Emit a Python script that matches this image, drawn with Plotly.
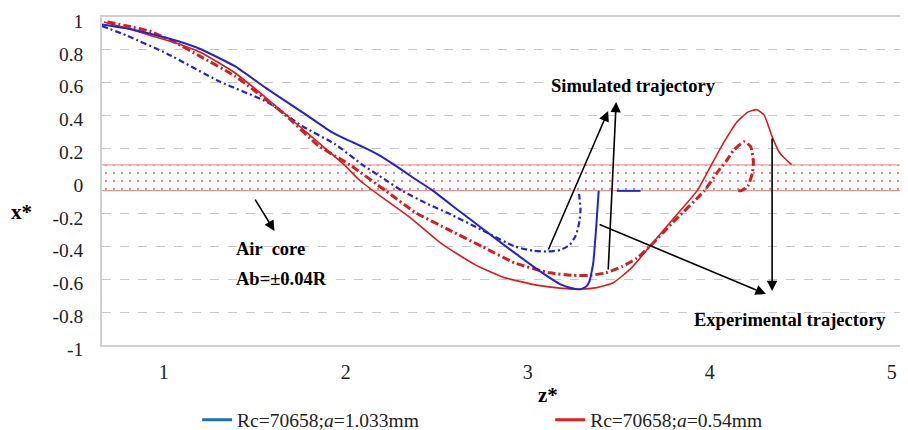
import plotly.graph_objects as go

# ---------------- data ----------------
# Experimental trajectory, a=1.033mm (blue solid)
blue_exp_x = [0.66, 0.80, 0.93, 1.07, 1.20, 1.39, 1.57, 1.76, 1.92, 2.00, 2.09, 2.18, 2.265, 2.37, 2.48,
              2.62, 2.75, 2.93, 3.08, 3.18, 3.25, 3.29, 3.32, 3.34, 3.36, 3.375, 3.39,
              None, 3.49, 3.62]
blue_exp_y = [0.955, 0.93, 0.896, 0.855, 0.805, 0.70, 0.56, 0.42, 0.30, 0.255, 0.21, 0.16, 0.10, 0.02, -0.06,
              -0.18, -0.29, -0.44, -0.56, -0.63, -0.655, -0.66, -0.645, -0.61, -0.50, -0.30, -0.06,
              None, -0.06, -0.06]

# Simulated trajectory, a=1.033mm (blue dash-dot)
blue_sim_x = [0.66, 0.80, 1.02, 1.30, 1.57, 1.76, 1.94, 2.09, 2.20, 2.31, 2.45, 2.57, 2.75, 2.93, 3.03, 3.11,
              3.18, 3.23, 3.265, 3.285, 3.29, 3.28]
blue_sim_y = [0.945, 0.885, 0.775, 0.61, 0.48, 0.335, 0.225, 0.10, 0.02, -0.06, -0.14, -0.20, -0.30, -0.40,
              -0.425, -0.43, -0.42, -0.39, -0.33, -0.24, -0.17, -0.06]

# Experimental trajectory, a=0.54mm (red solid)
red_exp_x = [0.67, 0.80, 0.93, 1.07, 1.20, 1.39, 1.57, 1.76, 1.99, 2.08, 2.20, 2.35, 2.53, 2.71, 2.86, 3.05,
             3.19, 3.29, 3.38, 3.47, 3.57, 3.67, 3.80, 3.93, 4.01, 4.08, 4.15, 4.21, 4.26, 4.30, 4.34, 4.38,
             4.41, 4.45]
red_exp_y = [0.97, 0.93, 0.886, 0.84, 0.785, 0.66, 0.50, 0.32, 0.10, 0.0, -0.10, -0.22, -0.385, -0.51,
             -0.585, -0.635, -0.655, -0.66, -0.65, -0.62, -0.53, -0.40, -0.23, -0.06, 0.10, 0.24, 0.36,
             0.42, 0.435, 0.40, 0.28, 0.18, 0.14, 0.10]

# Simulated trajectory, a=0.54mm (red dash-dot)
red_sim_x = [0.69, 0.80, 0.93, 1.07, 1.20, 1.39, 1.66, 1.85, 2.02, 2.22, 2.38, 2.57, 2.75, 2.93, 3.12, 3.25,
             3.34, 3.43, 3.52, 3.60, 3.67, 3.80, 3.97, 4.04, 4.09, 4.13, 4.19, 4.225, 4.24, 4.235, 4.21,
             4.17, 4.15]
red_sim_y = [0.97, 0.945, 0.91, 0.84, 0.76, 0.64, 0.41, 0.215, 0.10, -0.06, -0.19, -0.30, -0.40, -0.50,
             -0.56, -0.575, -0.575, -0.56, -0.52, -0.47, -0.40, -0.25, -0.06, 0.05, 0.12, 0.185, 0.24,
             0.21, 0.12, 0.05, -0.03, -0.06, -0.055]

# Air core band
band_x = [0.60, 5.20, 5.20, 0.60, 0.60]
band_y = [0.098, 0.098, -0.059, -0.059, 0.098]

legend_names = ["Rc=70658;<i>a</i>=1.033mm", "Rc=70658;<i>a</i>=0.54mm"]
x_ticks = [1, 2, 3, 4, 5]
y_ticks = [1, 0.8, 0.6, 0.4, 0.2, 0, -0.2, -0.4, -0.6, -0.8, -1]
y_tick_labels = ["1", "0.8", "0.6", "0.4", "0.2", "0", "-0.2", "-0.4", "-0.6", "-0.8", "-1"]

SERIF = "Liberation Serif"
BLUE = "#2323cf"
RED = "#d41f1f"

fig = go.Figure()

fig.add_trace(go.Scatter(
    x=band_x, y=band_y, mode="lines", fill="toself",
    line=dict(color="#e58080", width=1),
    fillcolor="rgba(255,255,255,0)",
    fillpattern=dict(shape=".", fgcolor="#c01010", bgcolor="white", size=8, solidity=0.065),
    showlegend=False, hoverinfo="skip"))

fig.add_trace(go.Scatter(x=blue_sim_x, y=blue_sim_y, mode="lines",
                         line=dict(color=BLUE, width=2.2, dash="6px,3px,2px,3px", shape="spline", smoothing=0.5),
                         showlegend=False))
fig.add_trace(go.Scatter(x=red_sim_x, y=red_sim_y, mode="lines",
                         line=dict(color=RED, width=3, dash="8px,3px,2px,3px", shape="spline", smoothing=0.5),
                         showlegend=False))
fig.add_trace(go.Scatter(x=red_exp_x, y=red_exp_y, mode="lines",
                         line=dict(color=RED, width=1.6, shape="spline", smoothing=0.5),
                         showlegend=False))
fig.add_trace(go.Scatter(x=blue_exp_x, y=blue_exp_y, mode="lines",
                         line=dict(color=BLUE, width=2, shape="spline", smoothing=0.4),
                         showlegend=False))

# legend-only entries
fig.add_trace(go.Scatter(x=[None], y=[None], mode="lines", name=legend_names[0],
                         line=dict(color="#1f6cb8", width=3), legend="legend"))
fig.add_trace(go.Scatter(x=[None], y=[None], mode="lines", name=legend_names[1],
                         line=dict(color="#e81c1c", width=3), legend="legend2"))

arrow_style = dict(xref="x", yref="y", axref="x", ayref="y", showarrow=True,
                   arrowhead=2, arrowsize=1.3, arrowwidth=1.6, arrowcolor="black", text="")
arrows = [
    (1.497, -0.104, 1.608, -0.305),
    (3.110, -0.427, 3.442, 0.427),
    (3.442, -0.549, 3.486, 0.482),
    (3.387, -0.262, 4.309, -0.689),
    (4.343, 0.268, 4.343, -0.671),
]
for tx, ty, hx, hy in arrows:
    fig.add_annotation(x=hx, y=hy, ax=tx, ay=ty, **arrow_style)

txt_font = dict(family=SERIF, size=18.5, color="black")
fig.add_annotation(x=3.58, y=0.58, text="<b>Simulated trajectory</b>", showarrow=False, font=txt_font)
fig.add_annotation(x=4.44, y=-0.85, text="<b>Experimental trajectory</b>", showarrow=False, font=txt_font)
fig.add_annotation(x=1.387, y=-0.415, text="<b>Air  core</b>", showarrow=False, font=txt_font, xanchor="left")
fig.add_annotation(x=1.387, y=-0.598, text="<b>Ab=±0.04R</b>", showarrow=False, font=txt_font, xanchor="left")

fig.add_annotation(xref="paper", yref="y", x=-0.0993, y=-0.19, text="<b>x*</b>", showarrow=False,
                   xanchor="center", yanchor="middle",
                   font=dict(family=SERIF, size=21, color="black"))
fig.add_annotation(xref="paper", yref="paper", x=0.553, y=-0.152, text="<b>z*</b>", showarrow=False,
                   xanchor="center", yanchor="middle",
                   font=dict(family=SERIF, size=21, color="black"))

leg_common = dict(orientation="h", yanchor="middle", xanchor="left",
                  font=dict(family=SERIF, size=19.5, color="#222"), bgcolor="rgba(0,0,0,0)")
fig.update_layout(
    width=900, height=422,
    margin=dict(l=94, r=0, t=9, b=85, autoexpand=False),
    paper_bgcolor="white", plot_bgcolor="white",
    font=dict(family=SERIF, size=20, color="#222"),
    legend=dict(x=0.118, y=-0.229, **leg_common),
    legend2=dict(x=0.556, y=-0.229, **leg_common),
    xaxis=dict(range=[0.66, 5.09], tickvals=x_ticks, showgrid=False, zeroline=False,
               showline=True, linecolor="#d0d0d0", linewidth=1.5, mirror=True,
               ticks="", ticklabelstandoff=8, ticklabeloverflow="allow",
               tickfont=dict(family=SERIF, size=20, color="#222")),
    yaxis=dict(range=[-1, 1], tickvals=y_ticks, ticktext=y_tick_labels, showgrid=True,
               gridcolor="#c8c8c8", griddash="dash", gridwidth=1, zeroline=False,
               showline=True, linecolor="#d0d0d0", linewidth=1.5,
               ticks="", ticklabelstandoff=13, ticklabeloverflow="allow", ticklabelshift=4,
               tickfont=dict(family=SERIF, size=19.5, color="#222")),
)

fig.write_html("out.html")
